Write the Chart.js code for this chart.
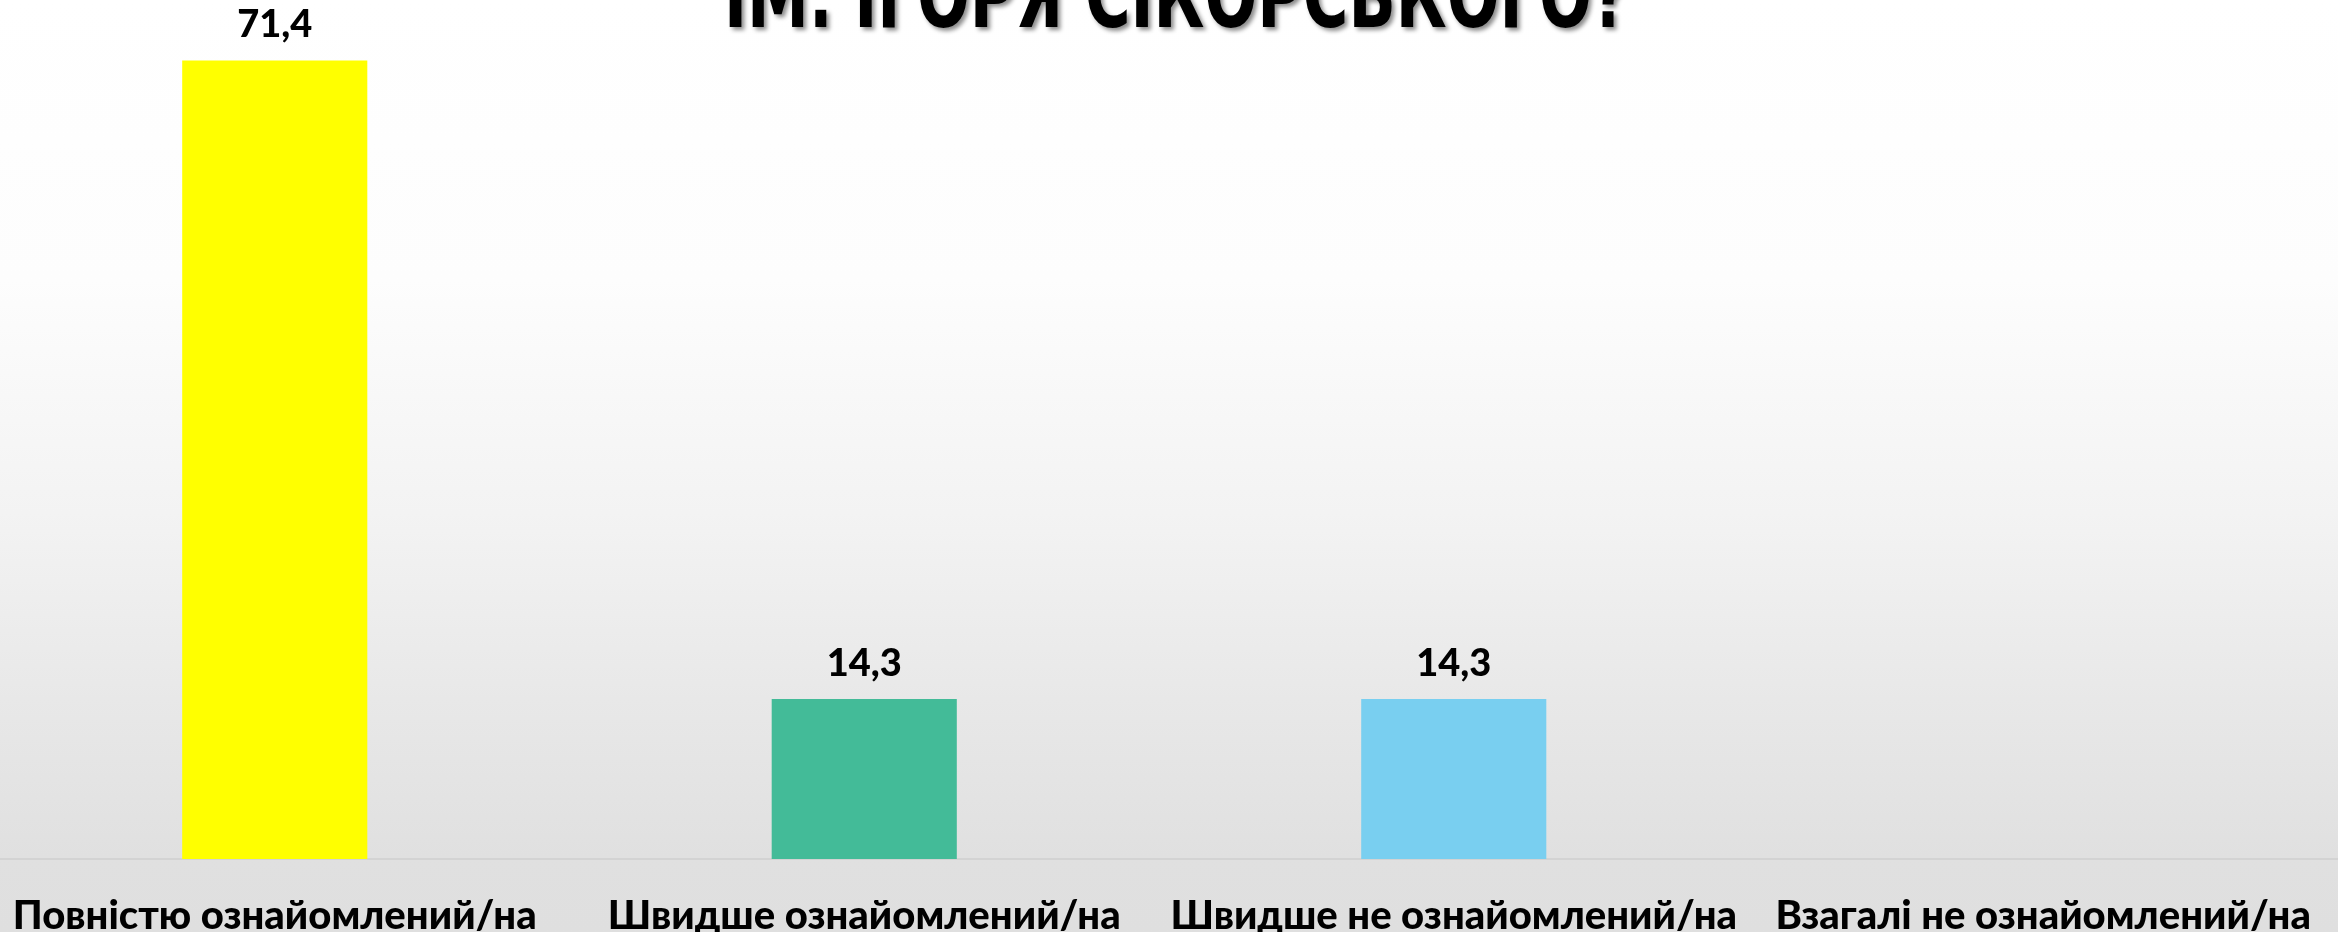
<!DOCTYPE html>
<html>
<head>
<meta charset="utf-8">
<script src="https://cdn.jsdelivr.net/npm/chart.js@4/dist/chart.umd.min.js"></script>
<style>
  html, body { margin: 0; padding: 0; }
  body {
    width: 2338px; height: 932px; overflow: hidden; position: relative;
    background: linear-gradient(to bottom, #ffffff 0%, #fdfdfd 30%, #f3f3f3 55%, #e8e8e8 75%, #e0e0e0 92%, #dfdfdf 100%);
  }
  #wrap { position: absolute; left: -20px; top: 0; width: 2358px; height: 965px; }
</style>
</head>
<body>
<div id="wrap"><canvas id="surveyChart"></canvas></div>
<script>
// categories + values
const categories = [
  'Повністю ознайомлений/на',
  'Швидше ознайомлений/на',
  'Швидше не ознайомлений/на',
  'Взагалі не ознайомлений/на'
];
const percents = [71.4, 14.3, 14.3, 0];
const barColors = ['#ffff00', '#43bb98', '#79cff0', '#a5a5a5'];
const titleText = 'ІМ. ІГОРЯ СІКОРСЬКОГО?';

const labelFont = 'Lato, "Noto Sans", sans-serif';

// title (cut off at top, like the slide)
const titlePlugin = {
  id: 'slideTitle',
  afterDraw(chart) {
    const c = chart.ctx;
    c.save();
    c.font = 'bold 90px "Liberation Sans Narrow", "DejaVu Sans Condensed", sans-serif';
    c.textBaseline = 'alphabetic';
    c.textAlign = 'center';
    const w = c.measureText(titleText).width;
    const sx = 904 / w;
    c.translate(1196, 27);
    c.scale(sx, 1);
    c.shadowColor = 'rgba(0,0,0,0.45)';
    c.shadowBlur = 4;
    c.shadowOffsetX = 3;
    c.shadowOffsetY = 3;
    c.fillStyle = '#000';
    c.fillText(titleText, 0, 0);
    c.restore();
  }
};

// value labels above bars
const valueLabels = {
  id: 'valueLabels',
  afterDatasetsDraw(chart) {
    const c = chart.ctx;
    const meta = chart.getDatasetMeta(0);
    c.save();
    c.font = '900 38px ' + labelFont;
    c.fillStyle = '#000';
    c.textAlign = 'center';
    c.textBaseline = 'alphabetic';
    meta.data.forEach((bar, i) => {
      const v = percents[i];
      if (!v) return;
      c.fillText(v.toFixed(1).replace('.', ','), bar.x, bar.y - 23);
    });
    c.restore();
  }
};

const ctx = document.getElementById('surveyChart').getContext('2d');
new Chart(ctx, {
  type: 'bar',
  data: {
    labels: categories,
    datasets: [{
      data: percents,
      backgroundColor: barColors,
      borderWidth: 0,
      categoryPercentage: 1,
      barPercentage: 0.314
    }]
  },
  options: {
    responsive: true,
    maintainAspectRatio: false,
    animation: false,
    layout: { padding: 0 },
    plugins: {
      legend: { display: false },
      tooltip: { enabled: false }
    },
    scales: {
      x: {
        grid: { display: false },
        border: { display: true, color: '#d3d3d3', width: 2 },
        ticks: {
          color: '#000',
          padding: 25,
          maxRotation: 0,
          autoSkip: false,
          font: { family: labelFont, size: 40, weight: '900' }
        }
      },
      y: {
        display: false,
        min: 0,
        max: 76.8
      }
    }
  },
  plugins: [valueLabels, titlePlugin]
});
</script>
</body>
</html>
